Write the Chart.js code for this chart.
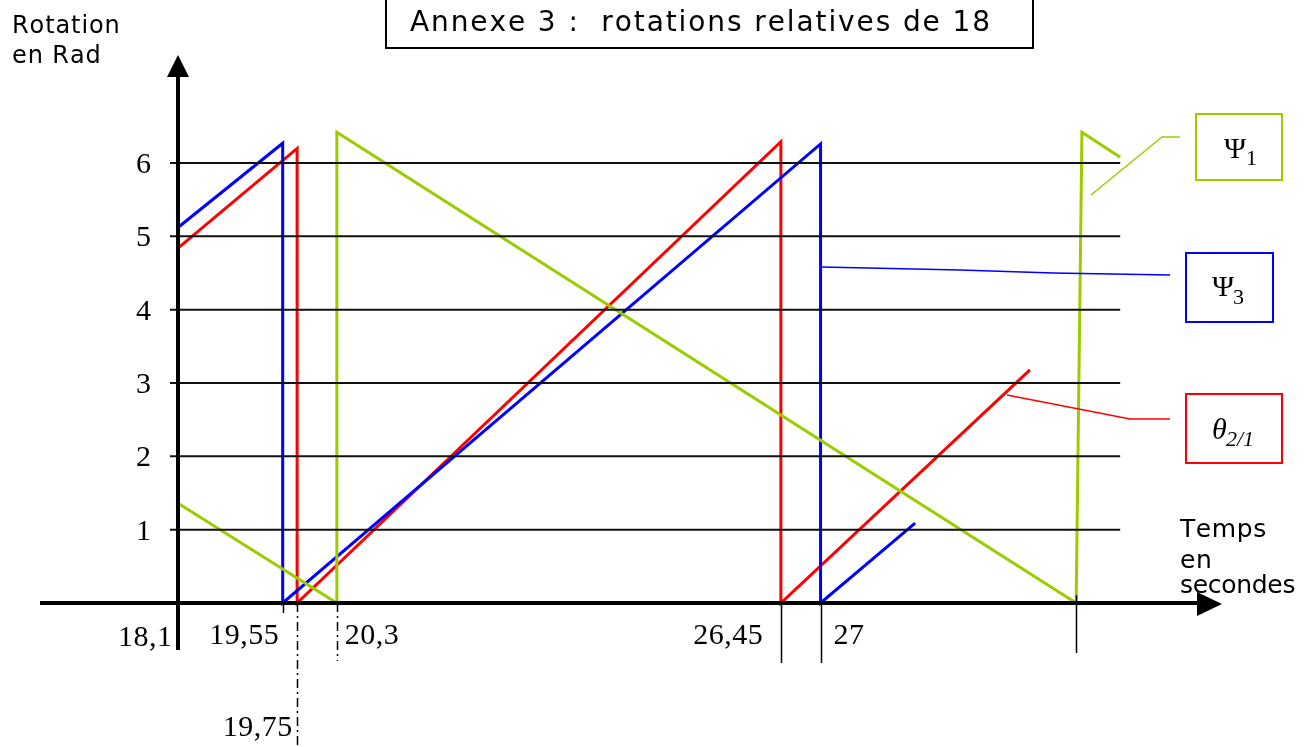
<!DOCTYPE html>
<html>
<head>
<meta charset="utf-8">
<script src="https://cdn.jsdelivr.net/npm/chart.js@4.4.1/dist/chart.umd.min.js"></script>
<style>
  html, body { margin: 0; padding: 0; background: #ffffff; }
  canvas { display: block; }
</style>
</head>
<body>
<canvas id="chart" width="1312" height="747"></canvas>
<script>
// Relative rotations (rad) against time (s)
const psi1Time = [18.1, 20.3, 20.3, 30.54, 30.62, 31.15];
const psi1Rot  = [1.36, 0, 6.42, 0, 6.42, 6.08];

const psi3Time = [18.1, 19.55, 19.55, 27, 27, 28.31];
const psi3Rot  = [5.12, 6.27, 0, 6.26, 0, 1.09];

const theta21Time = [18.1, 19.75, 19.75, 26.45, 26.45, 29.9];
const theta21Rot  = [4.84, 6.2, 0, 6.29, 0, 3.18];

const yTickValues = [1, 2, 3, 4, 5, 6];
const xTickValues = [18.1, 19.55, 19.75, 20.3, 26.45, 27, 30.54];
const xTickLabels = ['18,1', '19,55', '19,75', '20,3', '26,45', '27', ''];

const titleText = 'Annexe 3 :  rotations relatives de 18';
const yTitleLines = ['Rotation', 'en Rad'];
const xTitleLines = ['Temps', 'en', 'secondes'];
const seriesSymbols = ['Ψ', 'Ψ', 'θ'];
const seriesSubscripts = ['1', '3', '2/1'];

const GREEN = '#9ccc00';
const BLUE = '#0000ff';
const RED = '#ff0000';
const SANS = '"DejaVu Sans", sans-serif';
const SERIF = '"Liberation Serif", serif';

function toPoints(xs, ys) {
  return xs.map((x, i) => ({ x: x, y: ys[i] }));
}

// draws text char by char with extra tracking
function spacedText(ctx, str, x, y, spacing, align) {
  const chars = Array.from(str);
  let total = 0;
  const widths = chars.map(c => ctx.measureText(c).width);
  widths.forEach(w => total += w);
  total += spacing * (chars.length - 1);
  let cx = x;
  if (align === 'right') cx = x - total;
  else if (align === 'center') cx = x - total / 2;
  ctx.textAlign = 'left';
  chars.forEach((c, i) => {
    ctx.fillText(c, cx, y);
    cx += widths[i] + spacing;
  });
}

function line(ctx, pts, color, width, dash) {
  ctx.save();
  ctx.strokeStyle = color;
  ctx.lineWidth = width;
  ctx.setLineDash(dash || []);
  ctx.beginPath();
  pts.forEach((p, i) => i ? ctx.lineTo(p[0], p[1]) : ctx.moveTo(p[0], p[1]));
  ctx.stroke();
  ctx.restore();
}

const gridEnd = 31.15;

const decorations = {
  id: 'decorations',
  afterDatasetsDraw(chart) {
    const ctx = chart.ctx;
    const xs = chart.scales.x;
    const ys = chart.scales.y;
    const area = chart.chartArea;
    const x0 = xs.getPixelForValue(xTickValues[0]);
    const y0 = ys.getPixelForValue(0);

    ctx.save();
    ctx.fillStyle = '#000';

    // horizontal reference lines at each radian
    yTickValues.forEach(v => {
      const y = ys.getPixelForValue(v);
      line(ctx, [[x0 - 8, y], [xs.getPixelForValue(gridEnd), y]], '#111', 2);
    });

    // guides under the time axis
    const guideStyles = [
      null,
      { len: 10, dash: [] },
      { len: 144, dash: [9, 4, 2, 4] },
      { len: 58, dash: [9, 4, 2, 4] },
      { len: 60, dash: [] },
      { len: 60, dash: [] },
      { len: 50, dash: [], up: 8 }
    ];
    xTickValues.forEach((v, i) => {
      const s = guideStyles[i];
      if (!s) return;
      const x = Math.round(xs.getPixelForValue(v)) + 0.5;
      line(ctx, [[x, y0 - (s.up || 0)], [x, y0 + s.len]], '#000', 1.5, s.dash);
    });

    // axes
    const yAxisBottom = y0 + 47;
    line(ctx, [[x0, yAxisBottom], [x0, area.top + 20]], '#000', 4);
    ctx.beginPath();
    ctx.moveTo(x0, area.top);
    ctx.lineTo(x0 - 11, area.top + 22);
    ctx.lineTo(x0 + 11, area.top + 22);
    ctx.closePath();
    ctx.fill();

    line(ctx, [[area.left, y0], [area.right - 22, y0]], '#000', 4);
    ctx.beginPath();
    ctx.moveTo(area.right, y0 + 1);
    ctx.lineTo(area.right - 25, y0 - 11);
    ctx.lineTo(area.right - 25, y0 + 13);
    ctx.closePath();
    ctx.fill();

    // rotation tick labels
    ctx.font = '30px ' + SERIF;
    ctx.textBaseline = 'alphabetic';
    yTickValues.forEach(v => {
      const y = ys.getPixelForValue(v);
      spacedText(ctx, String(v), 151, y + 10, 0, 'right');
    });

    // time tick labels
    ctx.font = '30px ' + SERIF;
    const labelPlace = [
      { dx: -6, dy: 43, align: 'right' },
      { dx: -4, dy: 41, align: 'right' },
      { dx: -5, dy: 133, align: 'right' },
      { dx: 8, dy: 41, align: 'left' },
      { dx: -18, dy: 41, align: 'right' },
      { dx: 13, dy: 41, align: 'left' },
      { dx: 0, dy: 41, align: 'left' }
    ];
    xTickValues.forEach((v, i) => {
      if (!xTickLabels[i]) return;
      const p = labelPlace[i];
      spacedText(ctx, xTickLabels[i], xs.getPixelForValue(v) + p.dx, y0 + p.dy, 0.5, p.align);
    });

    // axis titles
    ctx.font = '24px ' + SANS;
    spacedText(ctx, yTitleLines[0], 12, 33, 0.9, 'left');
    spacedText(ctx, yTitleLines[1], 12, 63, 0.9, 'left');
    ctx.font = '25px ' + SANS;
    spacedText(ctx, xTitleLines[0], 1180, 537, 0.6, 'left');
    spacedText(ctx, xTitleLines[1], 1180, 568, 0.6, 'left');
    spacedText(ctx, xTitleLines[2], 1180, 593, -0.3, 'left');

    // title box
    ctx.lineWidth = 2;
    ctx.strokeStyle = '#000';
    ctx.strokeRect(386, -4, 647, 52);
    ctx.font = '28px ' + SANS;
    spacedText(ctx, titleText, 410, 31, 1.9, 'left');

    // series callouts
    const colors = [GREEN, BLUE, RED];
    const boxes = [[1196, 114, 86, 66], [1186, 253, 87, 69], [1186, 394, 96, 69]];
    const leaders = [
      [[1091, 195], [1162, 137], [1180, 137]],
      [[821, 267], [868, 268], [960, 270], [1053, 273], [1170, 275]],
      [[1007, 395], [1130, 419], [1170, 419]]
    ];
    const symbolPos = [[1224, 158, 1246, 165], [1212, 296, 1233, 304], [1212, 439, 1226, 446]];
    colors.forEach((c, i) => {
      line(ctx, leaders[i], c, 1.5);
      ctx.strokeStyle = c;
      ctx.lineWidth = 2;
      const b = boxes[i];
      ctx.strokeRect(b[0], b[1], b[2], b[3]);
      ctx.fillStyle = '#000';
      const p = symbolPos[i];
      const italic = seriesSymbols[i] === 'θ' ? 'italic ' : '';
      ctx.font = italic + '30px ' + SERIF;
      spacedText(ctx, seriesSymbols[i], p[0], p[1], 0, 'left');
      ctx.font = italic + '22px ' + SERIF;
      spacedText(ctx, seriesSubscripts[i], p[2], p[3], 0, 'left');
    });

    ctx.restore();
  }
};

const lineStyle = { showLine: true, pointRadius: 0, borderWidth: 3, tension: 0, fill: false };

new Chart(document.getElementById('chart'), {
  type: 'scatter',
  data: {
    datasets: [
      Object.assign({ label: 'Ψ1', data: toPoints(psi1Time, psi1Rot), borderColor: GREEN }, lineStyle),
      Object.assign({ label: 'Ψ3', data: toPoints(psi3Time, psi3Rot), borderColor: BLUE }, lineStyle),
      Object.assign({ label: 'θ2/1', data: toPoints(theta21Time, theta21Rot), borderColor: RED }, lineStyle)
    ]
  },
  options: {
    responsive: false,
    animation: false,
    layout: { padding: { left: 40, right: 90, top: 55, bottom: 0 } },
    scales: {
      x: { type: 'linear', min: 16.1886, max: 32.56, display: false },
      y: { type: 'linear', min: -1.964, max: 7.473, display: false }
    },
    plugins: { legend: { display: false }, tooltip: { enabled: false } }
  },
  plugins: [decorations]
});
</script>
</body>
</html>
